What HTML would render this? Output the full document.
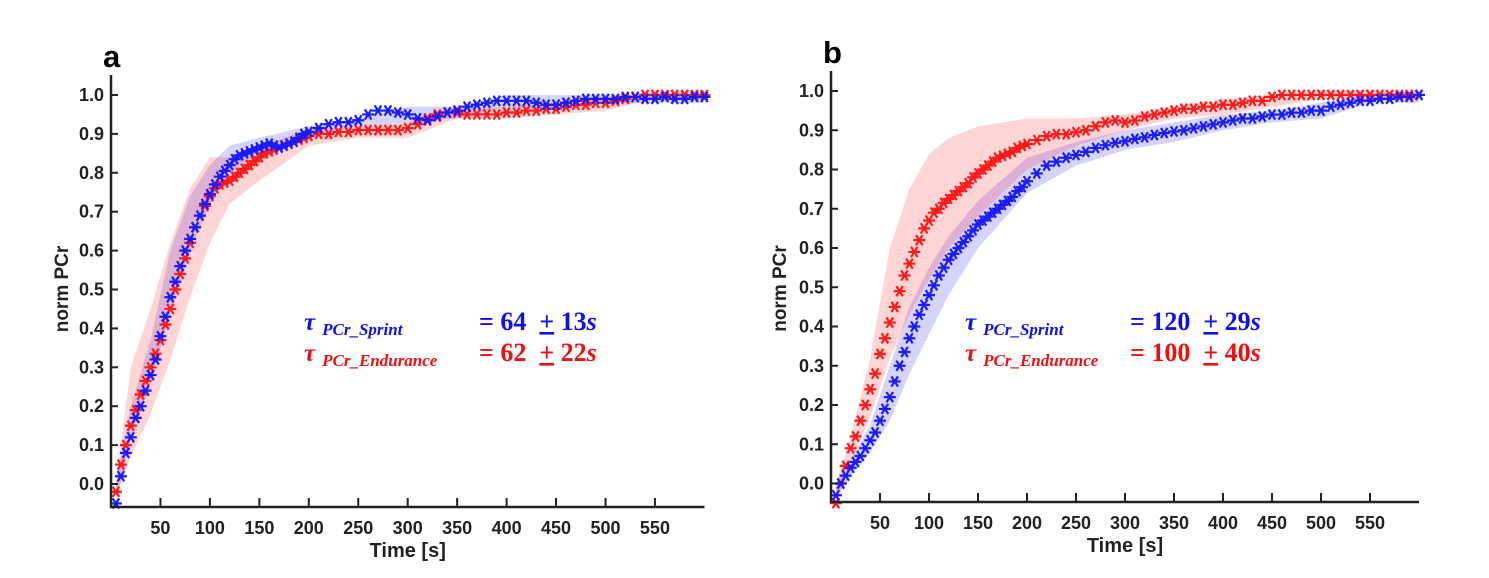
<!DOCTYPE html>
<html><head><meta charset="utf-8"><style>
body{margin:0;background:#fff;}
svg{display:block;font-family:"Liberation Sans",sans-serif;}
.tk{font-weight:bold;font-size:18px;fill:#222;}
.ann{font-family:"Liberation Serif",serif;font-weight:bold;}
</style></head><body>
<svg id="chart" width="1489" height="578" viewBox="0 0 1489 578"></svg>
<script>
// Panel a data
const aBlueT=[5,10,15,20,25,30,35,40,45,50,55,60,65,70,75,80,85,90,95,100,105,110,115,120,125,130,135,140,145,150,155,160,165,170,175,180,185,190,195,200,210,220,230,240,250,260,270,280,290,300,310,320,330,340,350,360,370,380,390,400,410,420,430,440,450,460,470,480,490,500,510,520,530,540,550,560,570,580,590,600];
const aBlueV=[-0.05,0.02,0.08,0.12,0.17,0.2,0.24,0.28,0.32,0.38,0.43,0.48,0.52,0.56,0.6,0.63,0.66,0.69,0.72,0.745,0.77,0.79,0.805,0.82,0.835,0.845,0.85,0.855,0.86,0.865,0.87,0.875,0.87,0.865,0.87,0.875,0.88,0.89,0.9,0.905,0.915,0.925,0.93,0.93,0.935,0.95,0.96,0.96,0.955,0.95,0.94,0.935,0.945,0.955,0.96,0.97,0.975,0.98,0.985,0.985,0.985,0.985,0.98,0.975,0.975,0.98,0.985,0.99,0.99,0.99,0.99,0.995,0.995,0.99,0.99,0.995,0.99,0.99,0.995,0.995];
const aRedT=[5,10,15,20,25,30,35,40,45,50,55,60,65,70,75,80,85,90,95,100,105,110,115,120,125,130,135,140,145,150,155,160,165,170,175,180,185,190,195,200,210,220,230,240,250,260,270,280,290,300,310,320,330,340,350,360,370,380,390,400,410,420,430,440,450,460,470,480,490,500,510,520,530,540,550,560,570,580,590,600];
const aRedV=[-0.02,0.05,0.1,0.15,0.19,0.23,0.265,0.3,0.335,0.37,0.41,0.45,0.5,0.54,0.58,0.62,0.66,0.69,0.715,0.74,0.76,0.77,0.775,0.78,0.79,0.8,0.81,0.82,0.83,0.84,0.85,0.855,0.86,0.865,0.87,0.875,0.88,0.885,0.89,0.895,0.9,0.9,0.905,0.905,0.91,0.91,0.91,0.91,0.91,0.915,0.925,0.94,0.95,0.955,0.955,0.95,0.95,0.95,0.95,0.955,0.955,0.96,0.96,0.965,0.965,0.97,0.975,0.975,0.98,0.98,0.985,0.99,0.995,1.0,1.0,1.0,1.0,1.0,1.0,1.0];
const bandT=[5,20,40,60,80,100,120,150,200,250,300,350,400,450,500,550,600];
const aBlueLo=[-0.05,0.12,0.26,0.44,0.6,0.72,0.8,0.85,0.89,0.92,0.93,0.94,0.97,0.96,0.98,0.98,0.98];
const aBlueHi=[0,0.2,0.37,0.6,0.74,0.82,0.87,0.89,0.92,0.94,0.97,0.97,1.0,1.0,1.0,1.0,1.0];
const aRedLo=[-0.03,0.07,0.18,0.32,0.48,0.62,0.72,0.78,0.87,0.89,0.89,0.94,0.94,0.95,0.96,0.99,0.99];
const aRedHi=[0.0,0.3,0.45,0.62,0.76,0.84,0.84,0.87,0.91,0.92,0.93,0.96,0.97,0.98,0.99,1.01,1.01];
// Panel b data
const bBlueT=[5,10,15,20,25,30,35,40,45,50,55,60,65,70,75,80,85,90,95,100,105,110,115,120,125,130,135,140,145,150,155,160,165,170,175,180,185,190,195,200,210,220,230,240,250,260,270,280,290,300,310,320,330,340,350,360,370,380,390,400,410,420,430,440,450,460,470,480,490,500,510,520,530,540,550,560,570,580,590,600];
const bBlueV=[-0.03,0.0,0.02,0.04,0.055,0.07,0.09,0.11,0.13,0.16,0.19,0.22,0.26,0.3,0.335,0.37,0.4,0.43,0.455,0.48,0.505,0.53,0.55,0.57,0.585,0.6,0.615,0.63,0.645,0.66,0.67,0.68,0.69,0.7,0.71,0.72,0.73,0.745,0.755,0.77,0.79,0.81,0.82,0.83,0.837,0.845,0.855,0.862,0.868,0.872,0.878,0.882,0.888,0.893,0.897,0.9,0.905,0.91,0.915,0.92,0.925,0.93,0.93,0.935,0.94,0.94,0.945,0.945,0.95,0.95,0.96,0.965,0.97,0.975,0.975,0.98,0.98,0.985,0.985,0.99];
const bRedT=[5,10,15,20,25,30,35,40,45,50,55,60,65,70,75,80,85,90,95,100,105,110,115,120,125,130,135,140,145,150,155,160,165,170,175,180,185,190,195,200,210,220,230,240,250,260,270,280,290,300,310,320,330,340,350,360,370,380,390,400,410,420,430,440,450,460,470,480,490,500,510,520,530,540,550,560,570,580,590,600];
const bRedV=[-0.05,0.0,0.045,0.09,0.12,0.16,0.2,0.24,0.28,0.33,0.37,0.41,0.45,0.49,0.53,0.56,0.59,0.62,0.65,0.67,0.69,0.7,0.715,0.725,0.735,0.745,0.755,0.765,0.78,0.79,0.8,0.81,0.82,0.83,0.835,0.84,0.845,0.855,0.86,0.865,0.875,0.885,0.89,0.89,0.895,0.9,0.91,0.92,0.925,0.92,0.925,0.935,0.94,0.945,0.95,0.955,0.955,0.96,0.96,0.965,0.965,0.97,0.975,0.975,0.985,0.99,0.99,0.99,0.99,0.99,0.99,0.99,0.99,0.99,0.99,0.99,0.99,0.99,0.99,0.99];
const bBlueLo=[-0.04,0.02,0.08,0.16,0.28,0.38,0.48,0.6,0.74,0.81,0.85,0.87,0.9,0.92,0.93,0.97,0.97];
const bBlueHi=[0,0.06,0.15,0.3,0.45,0.55,0.63,0.72,0.83,0.87,0.9,0.92,0.94,0.95,0.97,0.99,1.0];
const bRedLo=[-0.05,0.05,0.17,0.32,0.43,0.52,0.6,0.68,0.8,0.86,0.9,0.93,0.94,0.96,0.98,0.98,0.98];
const bRedHi=[0,0.12,0.32,0.6,0.75,0.84,0.88,0.91,0.93,0.93,0.94,0.96,0.98,0.99,1.0,1.0,1.0];
const xTicks=[50,100,150,200,250,300,350,400,450,500,550];
const yTicks=[0.0,0.1,0.2,0.3,0.4,0.5,0.6,0.7,0.8,0.9,1.0];

const NS="http://www.w3.org/2000/svg";
const svg=document.getElementById('chart');
function el(tag,attrs,parent){const e=document.createElementNS(NS,tag);for(const k in attrs)e.setAttribute(k,attrs[k]);(parent||svg).appendChild(e);return e;}

function panel(cfg){
  const g=el('g',{});
  
  
  const X=t=>cfg.x0+t*cfg.kx;
  const Y=v=>cfg.y0-v*cfg.ky;
  function band(lo,hi,color,name){
    let d='M'+bandT.map((t,i)=>X(t)+','+Y(hi[i])).join(' L');
    for(let i=bandT.length-1;i>=0;i--)d+=' L'+X(bandT[i])+','+Y(lo[i]);
    const p=el('path',{d:d+'Z',fill:color,stroke:'none'},g);
    
    
  }
  band(cfg.bLo,cfg.bHi,'rgba(60,60,255,0.22)','sprint-band');
  band(cfg.rLo,cfg.rHi,'rgba(255,40,40,0.2)','endurance-band');
  function markers(T,V,color,name){
    const sg=el('g',{stroke:color,'stroke-width':2.2},g);
    
    
    T.forEach((t,i)=>{
      const cx=X(t),cy=Y(V[i]),r=6;
      const m=el('path',{d:`M${cx-r},${cy}L${cx+r},${cy}M${cx-r*0.55},${cy-r*0.85}L${cx+r*0.55},${cy+r*0.85}M${cx-r*0.55},${cy+r*0.85}L${cx+r*0.55},${cy-r*0.85}`},sg);
      
      
    });
  }
  markers(cfg.rT,cfg.rV,'#ff1a1a','endurance-series');
  markers(cfg.bT,cfg.bV,'#1a1aff','sprint-series');
  const ax=el('path',{d:`M${cfg.x0},${cfg.top}L${cfg.x0},${cfg.axY}L${X(600)},${cfg.axY}`,fill:'none',stroke:'#222','stroke-width':2.5},g);
  
  
  xTicks.forEach(t=>{
    el('line',{x1:X(t),x2:X(t),y1:cfg.axY,y2:cfg.axY-9,stroke:'#222','stroke-width':2},g);
    const tx=el('text',{x:X(t),y:cfg.axY+27,'text-anchor':'middle',class:'tk'},g);tx.textContent=t;
    
    
  });
  yTicks.forEach(v=>{
    el('line',{x1:cfg.x0,x2:cfg.x0+7,y1:Y(v),y2:Y(v),stroke:'#222','stroke-width':2},g);
    const tx=el('text',{x:cfg.x0-7,y:Y(v)+6,'text-anchor':'end',class:'tk'},g);tx.textContent=v.toFixed(1);
    
    
  });
  const xl=el('text',{x:X(300),y:cfg.axY+50,'text-anchor':'middle','font-size':20,'font-weight':'bold',fill:'#222'},g);xl.textContent='Time [s]';
  
  
  const yl=el('text',{x:0,y:0,transform:`translate(${cfg.ylx},${cfg.y0-195}) rotate(-90)`,'text-anchor':'middle','font-size':19,'font-weight':'bold',fill:'#222'},g);yl.textContent='norm PCr';
  
  
  const pl=el('text',{x:cfg.x0-8,y:cfg.top-8,'font-size':31,'font-weight':'bold',fill:'#000'},g);pl.textContent=cfg.id;
  
  
  const rows=[[cfg.ann[0],'#1010ee','PCr_Sprint',cfg.ann[2],330],[cfg.ann[1],'#ee1010','PCr_Endurance',cfg.ann[3],361]];
  rows.forEach((r,i)=>{
    const t=el('text',{x:r[0],y:r[4],class:'ann',fill:r[1]},g);
    
    
    t.innerHTML=`<tspan font-size="25" font-style="italic">τ</tspan><tspan font-size="17" font-style="italic" dx="7" dy="5">${r[2]}</tspan>`;
    const v=el('text',{x:r[0]+cfg.eqx,y:r[4],class:'ann',fill:r[1],'font-size':26},g);
    
    
    v.innerHTML=r[3];
  });
}
panel({id:'a',x0:111,kx:0.989,y0:484,ky:389,axY:507,top:75,ylx:68,
  bT:aBlueT,bV:aBlueV,rT:aRedT,rV:aRedV,bLo:aBlueLo,bHi:aBlueHi,rLo:aRedLo,rHi:aRedHi,
  ann:[304,304,'= 64 &#160;<tspan text-decoration="underline">+</tspan> 13<tspan font-style="italic">s</tspan>','= 62 &#160;<tspan text-decoration="underline">+</tspan> 22<tspan font-style="italic">s</tspan>'],eqx:175});
panel({id:'b',x0:831,kx:0.98,y0:483.5,ky:392.5,axY:502,top:71,ylx:786,
  bT:bBlueT,bV:bBlueV,rT:bRedT,rV:bRedV,bLo:bBlueLo,bHi:bBlueHi,rLo:bRedLo,rHi:bRedHi,
  ann:[965,965,'= 120 &#160;<tspan text-decoration="underline">+</tspan> 29<tspan font-style="italic">s</tspan>','= 100 &#160;<tspan text-decoration="underline">+</tspan> 40<tspan font-style="italic">s</tspan>'],eqx:165});
</script>
</body></html>
